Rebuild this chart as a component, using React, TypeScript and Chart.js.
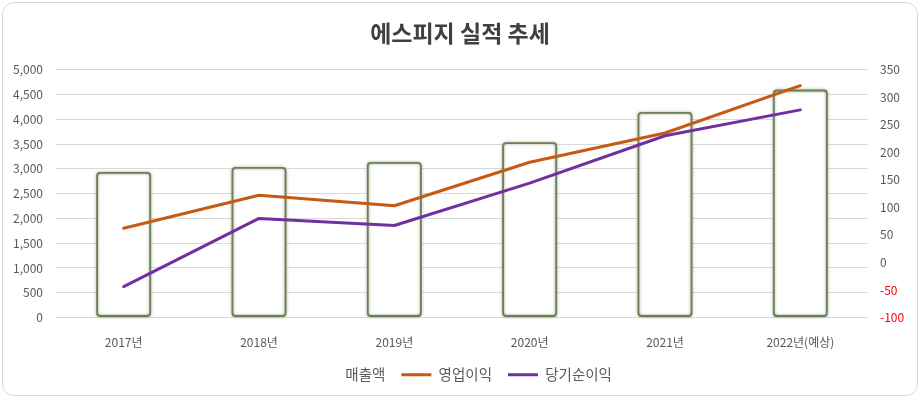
import React, { useEffect, useRef } from 'react';
import { Chart, registerables } from 'chart.js';

Chart.register(...registerables);

const chartTitle = '에스피지 실적 추세';
const categories = ['2017년', '2018년', '2019년', '2020년', '2021년', '2022년(예상)'];
const seriesNames = ['매출액', '영업이익', '당기순이익'];
const sales = [2940, 3040, 3140, 3540, 4150, 4600];
const operatingProfit = [62, 122, 103, 182, 235, 321];
const netProfit = [-44, 80, 67, 144, 230, 277];
const leftAxis = { min: 0, max: 5000, step: 500 };
const rightAxis = { min: -100, max: 350, step: 50 };

const FONT = "'Noto Sans CJK KR', 'Noto Sans', sans-serif";

const barGlow = {
  id: 'barGlow',
  afterDatasetDraw(chart: any, args: any) {
    const meta = args.meta;
    if (meta.type !== 'bar') return;
    const ctx = chart.ctx;
    ctx.save();
    ctx.strokeStyle = 'rgba(84,104,64,0.8)';
    ctx.lineWidth = 1.8;
    ctx.shadowColor = 'rgba(84,106,58,0.8)';
    ctx.shadowBlur = 3;
    meta.data.forEach((el: any) => {
      const p = el.getProps(['x', 'y', 'base', 'width'], true);
      const left = p.x - p.width / 2;
      const top = Math.min(p.y, p.base);
      const h = Math.abs(p.base - p.y);
      ctx.beginPath();
      (ctx as any).roundRect(left + 1, top + 1, p.width - 2, h - 2, 3);
      ctx.stroke();
    });
    ctx.restore();
  },
};

export default function App() {
  const ref = useRef<HTMLCanvasElement | null>(null);

  useEffect(() => {
    if (!ref.current) return;
    const chart = new Chart(ref.current, {
      type: 'bar',
      data: {
        labels: categories,
        datasets: [
          {
            type: 'bar',
            label: seriesNames[0],
            data: sales,
            yAxisID: 'y',
            backgroundColor: '#ffffff',
            borderWidth: 0,
            categoryPercentage: 1,
            barPercentage: 0.407,
            order: 3,
            pointStyle: 'rect',
          } as any,
          {
            type: 'line',
            label: seriesNames[1],
            data: operatingProfit,
            yAxisID: 'y1',
            borderColor: '#C55A11',
            backgroundColor: '#C55A11',
            borderWidth: 3,
            pointRadius: 0,
            pointStyle: 'line',
            tension: 0,
            borderCapStyle: 'round',
            borderJoinStyle: 'round',
            order: 2,
          } as any,
          {
            type: 'line',
            label: seriesNames[2],
            data: netProfit,
            yAxisID: 'y1',
            borderColor: '#7030A0',
            backgroundColor: '#7030A0',
            borderWidth: 3,
            pointRadius: 0,
            pointStyle: 'line',
            tension: 0,
            borderCapStyle: 'round',
            borderJoinStyle: 'round',
            order: 1,
          } as any,
        ],
      },
      options: {
        responsive: false,
        animation: false,
        layout: { padding: { top: 0, left: 0, right: 0, bottom: 6 } },
        plugins: {
          tooltip: { enabled: false },
          title: {
            display: true,
            text: chartTitle,
            color: '#404040',
            font: { family: FONT, size: 23, weight: 'bold' },
            padding: { top: 19.7, bottom: 22.4 },
          },
          legend: {
            position: 'bottom',
            labels: {
              usePointStyle: true,
              pointStyleWidth: 30,
              boxHeight: 13,
              padding: 16,
              color: '#595959',
              font: { family: FONT, size: 14.5 },
              sort: (a: any, b: any) => a.datasetIndex - b.datasetIndex,
            },
          },
        },
        scales: {
          x: {
            grid: { display: false },
            border: { display: false },
            ticks: {
              color: '#595959',
              font: { family: FONT, size: 12 },
              padding: 9.3,
              maxRotation: 0,
            },
            afterFit: (s: any) => {
              s.height = 34;
            },
          },
          y: {
            position: 'left',
            min: leftAxis.min,
            max: leftAxis.max,
            grid: { color: '#d9d9d9', lineWidth: 1, drawTicks: false },
            border: { display: false },
            ticks: {
              stepSize: leftAxis.step,
              color: '#595959',
              font: { family: FONT, size: 12 },
              padding: 13,
              callback: (v: any) => Number(v).toLocaleString('en-US'),
            },
            afterFit: (s: any) => {
              s.width = 56;
            },
          },
          y1: {
            position: 'right',
            min: rightAxis.min,
            max: rightAxis.max,
            grid: { drawOnChartArea: false, drawTicks: false },
            border: { display: false },
            ticks: {
              stepSize: rightAxis.step,
              font: { family: FONT, size: 12 },
              padding: 12,
              color: (c: any) => (c.tick && c.tick.value < 0 ? '#FF0000' : '#595959'),
            },
            afterFit: (s: any) => {
              s.width = 52;
            },
          },
        },
      },
      plugins: [barGlow],
    } as any);
    return () => chart.destroy();
  }, []);

  return (
    <div style={{ position: 'absolute', left: 0, top: 0, width: 920, height: 398, background: '#ffffff' }}>
      <canvas ref={ref} width={920} height={398} style={{ position: 'absolute', left: 0, top: 0 }} />
      <div
        style={{
          position: 'absolute',
          left: 2,
          top: 2,
          width: 914,
          height: 392,
          border: '1px solid #d9d9d9',
          borderRadius: 12,
          pointerEvents: 'none',
        }}
      />
    </div>
  );
}
